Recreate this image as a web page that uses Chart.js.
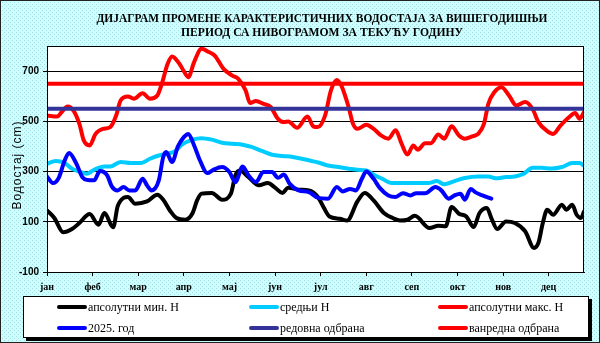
<!DOCTYPE html>
<html><head><meta charset="utf-8">
<script src="https://cdn.jsdelivr.net/npm/chart.js@4.4.0/dist/chart.umd.min.js"></script>
<style>html,body{margin:0;padding:0;background:#ccffff;overflow:hidden}#wrap{width:600px;height:343px}</style>
</head><body><div id="wrap"><canvas id="c" width="600" height="343"></canvas></div>
<script>
const titleLines = ['ДИЈАГРАМ ПРОМЕНЕ КАРАКТЕРИСТИЧНИХ ВОДОСТАЈА ЗА ВИШЕГОДИШЊИ', 'ПЕРИОД СА НИВОГРАМОМ ЗА ТЕКУЋУ ГОДИНУ'];
const yTitle = 'Водостај (cm)';
const monthLabels = ['јан','феб','мар','апр','мај','јун','јул','авг','сеп','окт','нов','дец'];
const monthTickDays = [0,31,62,93,124,155,186,217,248,279,310,341];
const yTickValues = [-100,100,300,500,700];
const seriesNames = ['апсолутни мин. H','средњи H','апсолутни макс. H','2025. год','редовна одбрана','ванредна одбрана'];

const minDays = [0,5,11,17,22,29,35,39,45,48,52,55,60,68,75,79,84,88,94,99,102,105,112,119,125,128,131,137,144,150,155,160,164,171,178,184,188,192,199,204,211,216,222,229,235,240,245,250,260,266,271,275,280,285,290,294,299,302,306,312,318,325,331,334,337,340,344,350,353,357,360,363,365];
const minVals = [145,115,58,71,95,131,88,135,78,161,195,199,172,181,208,188,141,115,108,135,185,212,215,188,212,284,304,278,245,254,236,215,236,228,225,200,158,121,112,105,181,215,185,135,115,105,108,124,75,84,82,159,132,121,79,135,155,115,71,101,95,62,-4,16,95,148,128,168,148,168,128,115,141];

const meanDays = [0,6,12,17,23,27,32,39,43,50,57,64,70,76,82,87,92,99,105,112,119,126,133,139,146,153,160,167,173,180,185,191,198,205,211,217,223,228,234,243,252,259,265,270,277,284,293,300,305,312,318,324,330,336,343,350,357,362,365];
const meanVals = [331,342,334,311,298,291,307,320,320,338,334,334,351,364,371,381,408,427,433,427,415,411,407,398,382,367,362,358,351,342,335,324,318,311,307,304,284,271,254,254,254,254,262,249,262,274,280,280,273,278,280,291,315,315,312,318,334,334,323];

const maxDays = [0,7,10,14,18,22,25,29,33,38,43,47,50,55,59,65,70,75,78,82,85,90,93,96,100,105,110,114,120,126,130,135,138,142,147,152,157,161,164,170,177,181,184,189,193,197,200,205,208,211,217,222,227,232,237,241,245,249,252,257,261,266,270,275,280,284,289,293,297,300,304,309,314,319,325,330,334,340,344,349,355,359,362,365];
const maxVals = [523,519,537,559,543,490,424,404,450,470,477,523,583,599,590,612,590,603,649,729,758,729,700,676,736,789,776,762,709,682,669,623,573,581,570,557,510,497,499,474,519,480,477,523,623,665,643,557,490,470,486,470,444,431,464,411,368,404,387,413,413,448,431,480,444,431,440,450,490,570,616,636,603,563,577,550,497,461,450,483,517,533,510,537];

const curDays = [0,4,8,12,15,20,24,27,32,36,41,44,48,52,56,60,65,68,71,76,79,81,85,89,93,96,100,104,109,113,119,124,128,133,137,142,147,153,157,161,165,171,178,184,191,197,201,206,210,214,217,222,226,232,237,242,247,251,257,264,268,273,277,281,284,288,291,296,302];
const curVals = [280,254,275,344,374,331,278,267,265,302,284,241,225,238,225,225,271,245,225,265,358,378,338,400,437,450,404,344,294,307,318,298,258,320,284,258,298,298,275,288,251,225,218,196,192,238,221,231,225,271,300,271,236,205,199,214,205,214,214,238,225,192,205,212,188,231,218,205,192];

const lineDays = [0,365];
const regularDefense = 550;
const emergencyDefense = 650;

const colors = ['#000000','#00ccff','#ff0000','#0000ff','#333399','#ff0000'];

function pts(days, vals){ return days.map((d,i)=>({x:d,y:vals[i]})); }

const dataSets = [
  pts(minDays,minVals), pts(meanDays,meanVals), pts(maxDays,maxVals), pts(curDays,curVals),
  pts(lineDays,lineDays.map(()=>regularDefense)), pts(lineDays,lineDays.map(()=>emergencyDefense))
];

const pat = document.createElement('canvas'); pat.width=4; pat.height=4;
(function(){const p=pat.getContext('2d');p.fillStyle='#ccffff';p.fillRect(0,0,4,4);p.fillStyle='#a8dce0';p.fillRect(0,0,1,1);p.fillRect(2,2,1,1);})();

const decor = {
  id:'decor',
  beforeDraw(chart){
    const ctx=chart.ctx, a=chart.chartArea;
    ctx.save();
    ctx.fillStyle=ctx.createPattern(pat,'repeat');
    ctx.fillRect(0,0,chart.width,chart.height);
    ctx.fillStyle='#ffffff';
    ctx.fillRect(a.left,a.top,a.right-a.left,a.bottom-a.top);
    ctx.restore();
  },
  afterDraw(chart){
    const ctx=chart.ctx, a=chart.chartArea;
    ctx.save();
    ctx.strokeStyle='#000'; ctx.lineWidth=1;
    ctx.strokeRect(a.left+0.5,a.top+0.5,a.right-a.left-1,a.bottom-a.top);
    ctx.strokeStyle='#222';
    ctx.strokeRect(0.5,0.5,chart.width-1,chart.height-1);
    ctx.fillStyle='#000';
    ctx.font='bold 12px "Liberation Serif"';
    ctx.textAlign='center'; ctx.textBaseline='middle';
    const widths=[451,282], cys=[19,33];
    titleLines.forEach((t,i)=>{
      const w=ctx.measureText(t).width; const s=widths[i]/w;
      ctx.save(); ctx.translate(322,cys[i]); ctx.scale(s,1); ctx.fillText(t,0,0); ctx.restore();
    });
    ctx.save();
    ctx.translate(17.5,165); ctx.rotate(-Math.PI/2);
    ctx.font='12px "Liberation Sans"'; ctx.letterSpacing='1px';
    ctx.textAlign='center'; ctx.textBaseline='middle';
    ctx.fillText(yTitle,0,0);
    ctx.restore();
    const bx=23,by=296,bw=566,bh=42;
    ctx.fillStyle='#000'; ctx.fillRect(bx+3,by+3,bw,bh);
    ctx.fillStyle='#fff'; ctx.fillRect(bx,by,bw,bh);
    ctx.strokeStyle='#000'; ctx.lineWidth=1; ctx.strokeRect(bx+0.5,by+0.5,bw-1,bh-1);
    const cols=[57,249,438], rows=[307,328];
    ctx.font='12px "Liberation Serif"'; ctx.textAlign='left'; ctx.textBaseline='middle';
    seriesNames.forEach((n,i)=>{
      const x=cols[i%3], y=rows[Math.floor(i/3)];
      ctx.strokeStyle=colors[i]; ctx.lineWidth=4; ctx.lineCap='round';
      ctx.beginPath(); ctx.moveTo(x+2,y); ctx.lineTo(x+28,y); ctx.stroke();
      ctx.fillStyle='#000'; ctx.fillText(n,x+31,y+0.5);
    });
    ctx.restore();
  }
};

new Chart(document.getElementById('c'), {
  type:'line',
  data:{ datasets: dataSets.map((d,i)=>({
    label: seriesNames[i], data:d, borderColor:colors[i], backgroundColor:colors[i],
    borderWidth:4, pointRadius:0, fill:false, cubicInterpolationMode: i<4?'monotone':'default', tension:0,
    order: 6-i, borderCapStyle:'round', borderJoinStyle:'round'
  }))},
  options:{
    responsive:false, animation:false, devicePixelRatio:1,
    layout:{padding:{left:0,right:16,top:46,bottom:0}},
    plugins:{legend:{display:false}, title:{display:false}, tooltip:{enabled:false}},
    scales:{
      x:{ type:'linear', min:0, max:365,
        afterBuildTicks(s){ s.ticks = monthTickDays.map(v=>({value:v})); },
        afterFit(s){ s.height = 71; },
        ticks:{ autoSkip:false, maxRotation:0, color:'#000', padding:5,
          font:{family:'Liberation Serif', size:10, weight:'bold'},
          callback:(v)=>monthLabels[monthTickDays.indexOf(v)] },
        grid:{ drawOnChartArea:false, drawTicks:true, tickLength:4, color:'#000' },
        border:{ display:true, color:'#000' }
      },
      y:{ min:-100, max:800,
        afterBuildTicks(s){ s.ticks = yTickValues.map(v=>({value:v})); },
        afterFit(s){ s.width = 47; },
        ticks:{ color:'#000', padding:4, font:{family:'Liberation Sans', size:10, weight:'bold'} },
        grid:{ color:'#000', lineWidth:1, tickLength:4, drawTicks:true },
        border:{ display:true, color:'#000' }
      }
    }
  },
  plugins:[decor]
});
</script></body></html>
